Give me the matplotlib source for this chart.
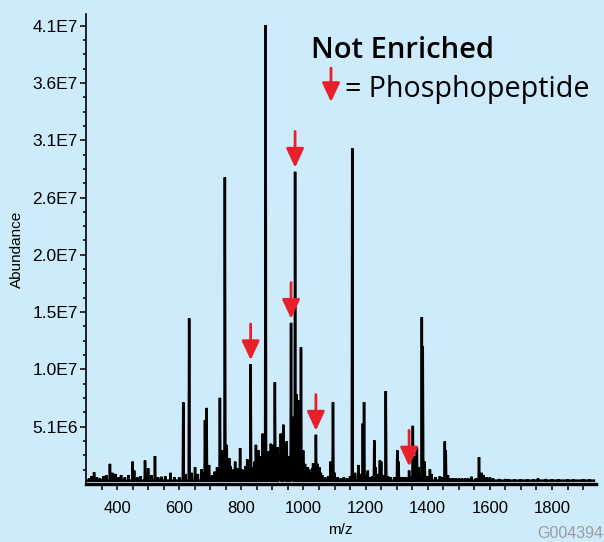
import matplotlib

matplotlib.use("Agg")
import matplotlib.pyplot as plt
import numpy as np

BG = "#cdebfa"
RED = "#e8202a"

# Major peaks: m/z and abundance
peak_mz = [
    326, 377, 385, 413, 450, 455, 490, 500, 522, 543, 572, 600,
    613, 632, 651, 672, 683, 688, 696, 706, 722, 731, 740, 747,
    753, 761, 770, 780, 796, 808, 819, 830, 838, 847, 855, 862,
    868, 878, 886, 895, 901, 908, 916, 921, 927, 935, 941, 946,
    952, 960, 966, 973, 978, 983, 992, 999, 1005, 1010, 1018, 1024,
    1031, 1040, 1045, 1051, 1060, 1070, 1087, 1095, 1100, 1120, 1140, 1157,
    1166, 1177, 1191, 1195, 1207, 1215, 1228, 1232, 1246, 1250, 1265, 1280,
    1302, 1306, 1316, 1330, 1340, 1352, 1357, 1365, 1370, 1381, 1384, 1390,
    1407, 1412, 1439, 1455, 1458, 1465, 1480, 1500, 1520, 1541, 1565, 1573,
    1580, 1590, 1610, 1660, 1700, 1755, 1800, 1850, 1900,
]
peak_abund = [
    1.05e6, 1.8e6, 1.0e6, 0.8e6, 2.0e6, 1.2e6, 2.1e6, 1.4e6, 2.5e6, 0.65e6, 1.0e6, 0.6e6,
    7.3e6, 1.48e7, 1.5e6, 1.3e6, 5.7e6, 6.8e6, 1.7e6, 0.8e6, 1.5e6, 7.7e6, 3.0e6, 2.74e7,
    3.5e6, 2.3e6, 1.2e6, 2.0e6, 3.2e6, 1.25e6, 2.2e6, 1.07e7, 1.5e6, 3.5e6, 3.0e6, 2.5e6,
    4.5e6, 4.1e7, 2.9e6, 3.6e6, 3.5e6, 9.1e6, 3.3e6, 2.0e6, 4.5e6, 5.3e6, 2.5e6, 3.8e6,
    2.2e6, 1.44e7, 6.0e6, 2.79e7, 8.0e6, 7.5e6, 1.22e7, 3.0e6, 1.8e6, 1.25e6, 1.3e6, 1.0e6,
    1.85e6, 4.4e6, 1.8e6, 1.5e6, 0.8e6, 0.6e6, 2.0e6, 7.3e6, 1.0e6, 0.5e6, 0.5e6, 3.0e7,
    1.0e6, 1.7e6, 5.4e6, 7.3e6, 1.2e6, 0.6e6, 3.9e6, 1.5e6, 2.1e6, 2.0e6, 8.3e6, 0.6e6,
    3.0e6, 2.0e6, 0.6e6, 0.6e6, 1.2e6, 5.2e6, 2.5e6, 3.3e6, 1.5e6, 1.49e7, 1.23e7, 2.0e6,
    1.3e6, 0.9e6, 0.7e6, 3.8e6, 3.0e6, 0.8e6, 0.5e6, 0.5e6, 0.5e6, 0.65e6, 2.4e6, 1.0e6,
    0.8e6, 0.6e6, 0.5e6, 0.4e6, 0.4e6, 0.5e6, 0.4e6, 0.4e6, 0.4e6,
]

# Small background peaks (chemical noise)
noise_mz = [
    310, 318, 335, 345, 356, 365, 395, 405, 425, 437, 465, 475, 510, 532, 555, 585,
    620, 640, 660, 678, 714, 735, 765, 775, 788, 802, 814, 825, 843, 850, 858, 872,
    882, 890, 912, 924, 931, 938, 956, 963, 987, 996, 1014, 1028, 1036, 1056, 1080,
    1110, 1130, 1150, 1185, 1200, 1222, 1240, 1258, 1272, 1292, 1322, 1346, 1375,
    1398, 1425, 1448, 1470, 1490, 1510, 1530, 1555, 1600, 1630, 1650, 1680, 1720,
    1740, 1780, 1820, 1870, 1920,
]
noise_abund = [
    0.5e6, 0.7e6, 0.6e6, 0.5e6, 0.7e6, 0.8e6, 0.9e6, 0.6e6, 0.6e6, 0.8e6, 0.6e6, 0.7e6,
    0.8e6, 0.6e6, 0.7e6, 0.6e6, 0.9e6, 1.0e6, 0.9e6, 1.0e6, 1.1e6, 1.4e6, 1.6e6, 1.3e6,
    1.4e6, 1.3e6, 1.6e6, 1.8e6, 2.0e6, 2.2e6, 2.4e6, 2.6e6, 2.2e6, 2.5e6, 2.4e6, 2.6e6,
    2.8e6, 2.3e6, 2.5e6, 2.4e6, 2.0e6, 1.8e6, 1.5e6, 1.4e6, 1.6e6, 1.0e6, 0.7e6, 0.6e6,
    0.6e6, 0.7e6, 0.9e6, 0.8e6, 0.7e6, 0.9e6, 0.8e6, 0.7e6, 0.6e6, 0.6e6, 0.7e6, 0.8e6,
    0.7e6, 0.6e6, 0.6e6, 0.5e6, 0.5e6, 0.5e6, 0.5e6, 0.5e6, 0.6e6, 0.45e6, 0.45e6,
    0.4e6, 0.4e6, 0.4e6, 0.45e6, 0.4e6, 0.4e6, 0.4e6,
]

# Phosphopeptide peaks flagged with arrows
phospho_mz = [830, 960, 973, 1040, 1340]

BASELINE = 0.3e6
PEAK_HALF_WIDTH = 1.5

ytick_vals = [5.12e6 * k for k in range(1, 9)]
ytick_labels = ["5.1E6", "1.0E7", "1.5E7", "2.0E7", "2.6E7", "3.1E7", "3.6E7", "4.1E7"]
xtick_vals = [400, 600, 800, 1000, 1200, 1400, 1600, 1800]

# Build the profile spectrum as the envelope of narrow triangular peaks
mz_grid = np.arange(300, 1935.01, 0.25)
all_mz = np.array(peak_mz + noise_mz, dtype=float)
all_ab = np.array(peak_abund + noise_abund, dtype=float)
profile = np.full_like(mz_grid, BASELINE)
for m, a in zip(all_mz, all_ab):
    tri = a * np.clip(1 - np.abs(mz_grid - m) / PEAK_HALF_WIDTH, 0, 1)
    profile = np.maximum(profile, tri)

fig = plt.figure(figsize=(6.04, 5.42), dpi=100, facecolor=BG)
ax = fig.add_axes([86 / 604, 58 / 542, 509.5 / 604, 470 / 542], facecolor=BG)

ax.plot(mz_grid, profile, color="black", lw=1.8, solid_joinstyle="miter")

ax.set_xlim(300, 1940)
ax.set_ylim(0, 4.2e7)

for side in ("top", "right"):
    ax.spines[side].set_visible(False)
ax.spines["left"].set_linewidth(1.2)
ax.spines["bottom"].set_linewidth(2.4)

ax.set_yticks(ytick_vals)
ax.set_yticklabels(ytick_labels)
ax.set_yticks(np.arange(1.28e6, 4.2e7, 1.28e6), minor=True)
ax.set_xticks(xtick_vals)
ax.set_xticks(np.arange(350, 1940, 50), minor=True)

ax.tick_params(axis="y", which="major", length=4, width=1.1, labelsize=12.5, pad=2)
ax.tick_params(axis="y", which="minor", length=2.5, width=1.1)
ax.tick_params(axis="x", which="both", length=4, width=1.1, labelsize=12, pad=8)
for lbl in ax.get_xticklabels() + ax.get_yticklabels():
    lbl.set_family("Liberation Sans")

ax.set_xlabel("m/z", family="Liberation Sans", fontsize=11, labelpad=5)
ax.set_ylabel("Abundance", family="Liberation Sans", fontsize=11, labelpad=6)

# Arrows over the phosphopeptide peaks
lookup = dict(zip(peak_mz, peak_abund))
arrow_kw = dict(
    arrowstyle="-|>,head_length=0.58,head_width=0.27",
    mutation_scale=20,
    color=RED,
    lw=2,
    shrinkA=0,
    shrinkB=3,
)
for m in phospho_mz:
    ax.annotate(
        "",
        xy=(m, lookup[m]),
        xytext=(0, 29),
        textcoords="offset points",
        arrowprops=arrow_kw,
    )

# Key
fig.text(311 / 604, 1 - 58 / 542, "Not Enriched", family="Open Sans", weight="semibold",
         fontsize=21, va="baseline", ha="left")
fig.text(345 / 604, 1 - 97 / 542, "= Phosphopeptide", family="Open Sans",
         fontsize=20.6, va="baseline", ha="left")
ax.annotate(
    "",
    xy=(331 / 604, 1 - 102 / 542),
    xycoords="figure fraction",
    xytext=(331 / 604, 1 - 68 / 542),
    textcoords="figure fraction",
    arrowprops=dict(arrow_kw, shrinkB=0),
)

fig.text(537 / 604, 1 - 538 / 542, "G004394", family="Liberation Sans", fontsize=11.5,
         color="#9c9c9c", ha="left", va="baseline")

fig.savefig("out.png", dpi=100, facecolor=BG)
